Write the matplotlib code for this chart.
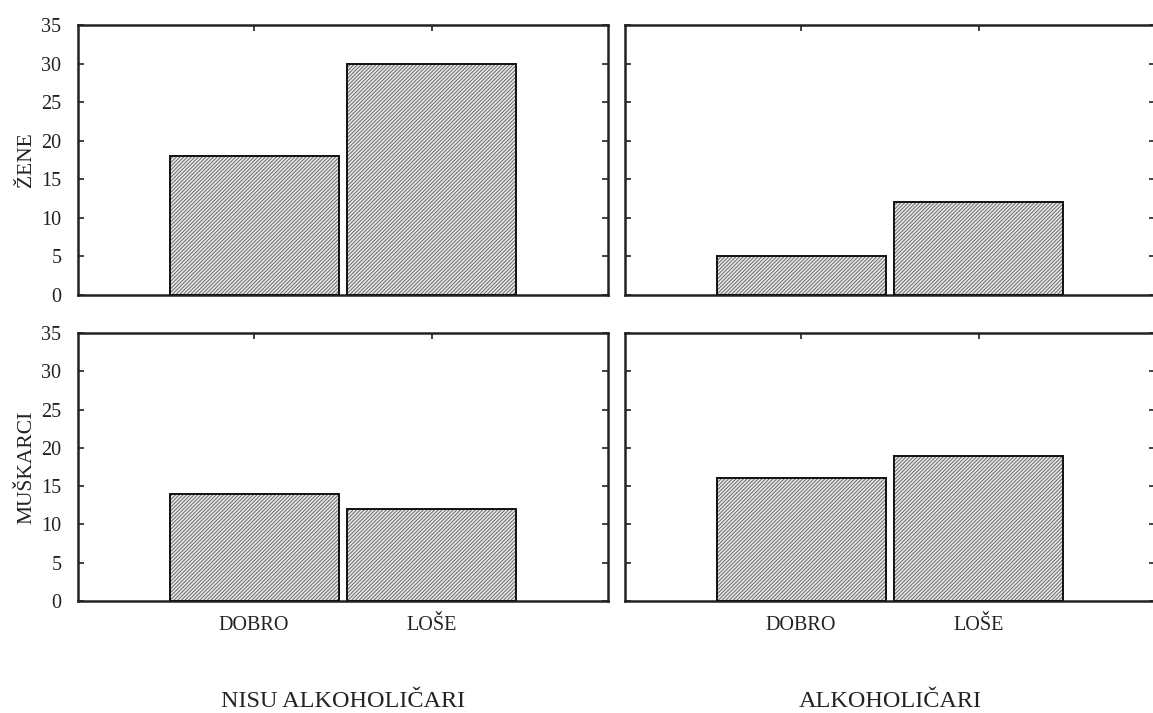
import matplotlib
matplotlib.use("Agg")
import matplotlib.pyplot as plt

# counts per panel: rows = sex, columns = group
categories = ["DOBRO", "LOŠE"]
groups = ["NISU ALKOHOLIČARI", "ALKOHOLIČARI"]
rows = ["ŽENE", "MUŠKARCI"]
zene_nisu = [18, 30]
zene_alk = [5, 12]
muskarci_nisu = [14, 12]
muskarci_alk = [16, 19]
counts = [[zene_nisu, zene_alk], [muskarci_nisu, muskarci_alk]]

plt.rcParams.update({
    "font.family": ["Liberation Serif", "DejaVu Serif"],
    "hatch.linewidth": 0.7,
    "text.color": "#222222",
})

INK = "#222222"
W, H = 1153, 713
fig = plt.figure(figsize=(W / 100, H / 100), dpi=100)

# axes boxes in pixels: (left, top, right, bottom)
col_px = [(78, 608), (625, 1155)]
row_px = [(25, 295), (333, 601)]

x = list(range(len(categories)))
for r, (top, bot) in enumerate(row_px):
    for c, (left, right) in enumerate(col_px):
        ax = fig.add_axes([left / W, 1 - bot / H, (right - left) / W, (bot - top) / H])
        vals = counts[r][c]
        # hatched fill, then a crisp black outline on top
        ax.bar(x, vals, width=0.95, color="#e8e8e8", edgecolor="#6a6a6a",
               hatch="/////////", linewidth=0, zorder=2)
        ax.bar(x, vals, width=0.95, fill=False, edgecolor="#111111",
               linewidth=1.4, zorder=3)
        ax.set_xlim(-0.99, 1.99)
        ax.set_ylim(0, 35)
        ax.set_yticks(range(0, 36, 5))
        ax.set_xticks(x)
        ax.tick_params(direction="in", length=4, width=1.2, color=INK,
                       top=True, right=True, labelsize=14.5, labelcolor=INK)
        ax.tick_params(axis="y", pad=12)
        ax.tick_params(axis="x", pad=11)
        if r == 1:
            ax.set_xticklabels(categories)
        else:
            ax.set_xticklabels([])
        if c == 1:
            ax.set_yticklabels([])
        for sp in ax.spines.values():
            sp.set_linewidth(1.8)
            sp.set_color(INK)

# row labels on the left
for name, (top, bot) in zip(rows, row_px):
    fig.text(27 / W, 1 - (top + bot) / 2 / H, name, rotation=90,
             ha="center", va="center", fontsize=15.5)

# group labels under each column
for name, (left, right) in zip(groups, col_px):
    cx = left + (right - left) * (1.5 - 0.01) / 2.98
    fig.text(cx / W, 0.002, name, ha="center", va="bottom", fontsize=17.5)

fig.savefig("out.png", dpi=100, facecolor="white")
